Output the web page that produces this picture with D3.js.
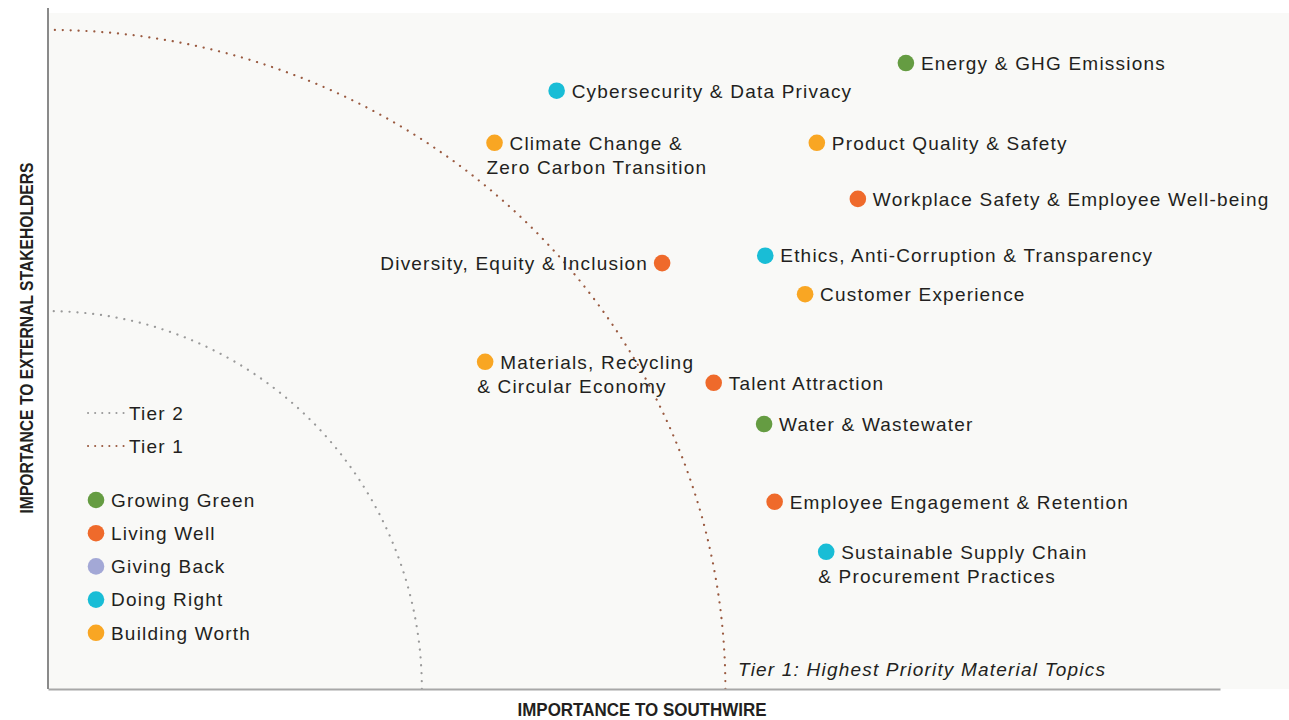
<!DOCTYPE html>
<html>
<head>
<meta charset="utf-8">
<script src="https://cdn.jsdelivr.net/npm/d3@7"></script>
<style>
	body { margin: 0; background: #fff; }
	svg text { font-family: "Liberation Sans", Arial, sans-serif; fill: #231f20; }
	svg text.lbl { font-size: 19px; letter-spacing: 1.2px; }
</style>
</head>
<body>
<svg id="canvas"></svg>
<script>
var width = 1289,
	height = 720;

// topics (lines of each label), importance to Southwire (x), to external stakeholders (y)
var topics = [
	["Energy & GHG Emissions"],
	["Cybersecurity & Data Privacy"],
	["Climate Change &", "Zero Carbon Transition"],
	["Product Quality & Safety"],
	["Workplace Safety & Employee Well-being"],
	["Diversity, Equity & Inclusion"],
	["Ethics, Anti-Corruption & Transparency"],
	["Customer Experience"],
	["Materials, Recycling", "& Circular Economy"],
	["Talent Attraction"],
	["Water & Wastewater"],
	["Employee Engagement & Retention"],
	["Sustainable Supply Chain", "& Procurement Practices"]
];
var southwire = [73.2, 43.4, 38.1, 65.6, 69.1, 52.4, 61.2, 64.6, 37.3, 56.8, 61.1, 62.0, 66.4];
var external  = [92.6, 88.5, 80.8, 80.8, 72.5, 63.0, 64.1, 58.4, 48.4, 45.3, 39.2, 27.7, 20.3];
var pillarOf  = [0, 3, 4, 4, 1, 1, 3, 4, 4, 1, 0, 1, 3];
var labelSide = ["r", "r", "r", "r", "r", "l", "r", "r", "r", "r", "r", "r", "r"];

var pillars = ["Growing Green", "Living Well", "Giving Back", "Doing Right", "Building Worth"];
var pillarColors = ["#659c42", "#ef6a2b", "#a3a8d6", "#19bdd6", "#f9a623"];

var tiers = ["Tier 2", "Tier 1"];
var tierColors = ["#9a9a9a", "#9a5a40"];
var tierRx = [31.9, 57.8];   // in southwire units
var tierRy = [55.9, 97.5];   // in external units

var svg = d3.select("#canvas")
	.attr("width", width)
	.attr("height", height);

var x = d3.scaleLinear()
	.domain([0, 100])
	.range([48, 1220]);

var y = d3.scaleLinear()
	.domain([0, 100])
	.range([689, 13]);

var color = d3.scaleOrdinal()
	.domain(d3.range(pillars.length))
	.range(pillarColors);

// panel
svg.append("rect")
	.attr("x", x(0))
	.attr("y", y(100))
	.attr("width", width - x(0))
	.attr("height", y(0) - y(100))
	.attr("fill", "#f9f9f7");

// tier arcs (quarter ellipses around the origin)
tiers.forEach(function(t, i){
	var pts = d3.range(0, 91).map(function(a){
		var r = a * Math.PI / 180;
		return [x(tierRx[i] * Math.cos(r)), y(tierRy[i] * Math.sin(r))];
	});
	svg.append("path")
		.attr("d", d3.line()(pts))
		.attr("fill", "none")
		.attr("stroke", tierColors[i])
		.attr("stroke-width", 2.2)
		.attr("stroke-linecap", "round")
		.attr("stroke-dasharray", "0.1 7.8");
});

// axes
svg.append("g")
	.attr("transform", "translate(0," + y(0) + ")")
	.call(d3.axisBottom(x).ticks(0).tickSize(0))
	.call(function(g){ g.select(".domain").attr("stroke", "#a8a8a8").attr("stroke-width", 2); });

svg.append("line")
	.attr("x1", x(0)).attr("x2", x(0))
	.attr("y1", 8).attr("y2", y(0))
	.attr("stroke", "#8a8a8a")
	.attr("stroke-width", 2);

svg.append("text")
	.attr("x", 642)
	.attr("y", 716)
	.attr("text-anchor", "middle")
	.attr("font-weight", "bold")
	.attr("font-size", 17.5)
	.attr("textLength", 249)
	.attr("lengthAdjust", "spacingAndGlyphs")
	.text("IMPORTANCE TO SOUTHWIRE");

svg.append("text")
	.attr("transform", "translate(33,338) rotate(-90)")
	.attr("text-anchor", "middle")
	.attr("font-weight", "bold")
	.attr("font-size", 18)
	.attr("textLength", 351)
	.attr("lengthAdjust", "spacingAndGlyphs")
	.text("IMPORTANCE TO EXTERNAL STAKEHOLDERS");

svg.append("text")
	.attr("class", "lbl")
	.attr("x", 738)
	.attr("y", 676)
	.attr("font-style", "italic")
	.text("Tier 1: Highest Priority Material Topics");

// topic dots
var idx = d3.range(topics.length);

var dots = svg.selectAll(".topic")
	.data(idx)
	.enter()
	.append("g")
	.attr("class", "topic")
	.attr("transform", function(d){
		return "translate(" + x(southwire[d]) + "," + y(external[d]) + ")";
	});

dots.append("circle")
	.attr("r", 8.3)
	.attr("fill", function(d){ return color(pillarOf[d]); });

dots.each(function(d){
	var g = d3.select(this);
	topics[d].forEach(function(line, j){
		var left = labelSide[d] == "l";
		g.append("text")
			.attr("class", "lbl")
			.attr("x", left ? -14 : (j == 0 ? 15 : -8))
			.attr("y", 6.8 + j * 24.5)
			.attr("text-anchor", left ? "end" : "start")
			.text(line);
	});
});

// legend: tiers
var tierLegend = svg.selectAll(".tierLegend")
	.data(tiers)
	.enter()
	.append("g")
	.attr("class", "tierLegend")
	.attr("transform", function(d, i){ return "translate(88," + (413 + i * 33) + ")"; });

tierLegend.append("line")
	.attr("x1", 0).attr("x2", 36)
	.attr("stroke", function(d, i){ return tierColors[i]; })
	.attr("stroke-width", 2)
	.attr("stroke-linecap", "round")
	.attr("stroke-dasharray", "0.1 7");

tierLegend.append("text")
	.attr("class", "lbl")
	.attr("x", 41)
	.attr("y", 6.8)
	.text(function(d){ return d; });

// legend: pillars
var pillarLegend = svg.selectAll(".pillarLegend")
	.data(pillars)
	.enter()
	.append("g")
	.attr("class", "pillarLegend")
	.attr("transform", function(d, i){ return "translate(96," + (500 + i * 33.2) + ")"; });

pillarLegend.append("circle")
	.attr("r", 8.3)
	.attr("fill", function(d, i){ return pillarColors[i]; });

pillarLegend.append("text")
	.attr("class", "lbl")
	.attr("x", 15)
	.attr("y", 6.8)
	.text(function(d){ return d; });
</script>
</body>
</html>
